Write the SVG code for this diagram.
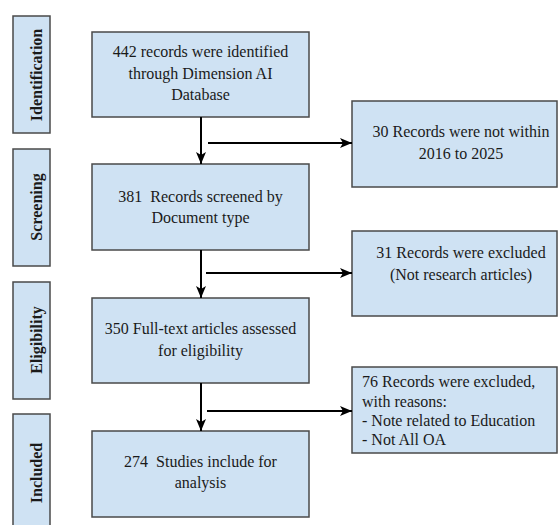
<svg xmlns="http://www.w3.org/2000/svg" width="558" height="525" viewBox="0 0 558 525">
<defs>
<style>
.box{fill:#cfe2f3;stroke:#4a4a4a;stroke-width:1.5}
text{font-family:'Liberation Serif','DejaVu Serif',Times,serif}
.t{font-size:16px;fill:#1a1a1a;white-space:pre}
.c{text-anchor:middle}
.lab{font-size:16px;font-weight:bold;fill:#1a1a1a;text-anchor:middle}
.ln{stroke:#000;stroke-width:2;fill:none}
</style>
<marker id="ah" markerUnits="userSpaceOnUse" viewBox="0 0 12 10" refX="12" refY="5" markerWidth="12" markerHeight="10" orient="auto">
<path d="M0,0 L12,5 L0,10 L3,5 z" fill="#000"/>
</marker>
</defs>
<rect width="558" height="525" fill="#fff"/>

<g id="stage-identification">
<rect class="box" x="13" y="16" width="37" height="117"/>
<text class="lab" transform="translate(42,75) rotate(-90)">Identification</text>
</g>
<g id="stage-screening">
<rect class="box" x="13" y="149" width="37" height="117"/>
<text class="lab" transform="translate(42,207) rotate(-90)">Screening</text>
</g>
<g id="stage-eligibility">
<rect class="box" x="13" y="282" width="37" height="117"/>
<text class="lab" transform="translate(42,340) rotate(-90)">Eligibility</text>
</g>
<g id="stage-included">
<rect class="box" x="13" y="414" width="37" height="118"/>
<text class="lab" transform="translate(42,473) rotate(-90)">Included</text>
</g>

<g id="identified">
<rect class="box" x="92" y="32" width="217" height="85"/>
<text class="t c" x="200.5" y="57">442 records were identified</text>
<text class="t c" x="200.5" y="79">through Dimension AI</text>
<text class="t c" x="200.5" y="100">Database</text>
</g>
<g id="screened">
<rect class="box" x="92" y="164" width="217" height="86"/>
<text class="t c" x="200.5" y="202">381  Records screened by</text>
<text class="t c" x="200.5" y="223">Document type</text>
</g>
<g id="assessed">
<rect class="box" x="92" y="298" width="217" height="85"/>
<text class="t c" x="200.5" y="334">350 Full-text articles assessed</text>
<text class="t c" x="200.5" y="356">for eligibility</text>
</g>
<g id="included">
<rect class="box" x="92" y="431" width="217" height="86"/>
<text class="t c" x="200.5" y="467">274  Studies include for</text>
<text class="t c" x="200.5" y="488">analysis</text>
</g>

<g id="excluded-date">
<rect class="box" x="352" y="101" width="205" height="86"/>
<text class="t c" x="461" y="137">30 Records were not within</text>
<text class="t c" x="461" y="159">2016 to 2025</text>
</g>
<g id="excluded-type">
<rect class="box" x="352" y="231" width="205" height="85"/>
<text class="t c" x="461" y="258">31 Records were excluded</text>
<text class="t c" x="461" y="280">(Not research articles)</text>
</g>
<g id="excluded-reasons">
<rect class="box" x="352" y="367" width="205" height="86"/>
<text class="t" x="362" y="387">76 Records were excluded,</text>
<text class="t" x="362" y="407">with reasons:</text>
<text class="t" x="362" y="426">- Note related to Education</text>
<text class="t" x="362" y="445">- Not All OA</text>
</g>

<g id="connectors">
<line class="ln" x1="201" y1="117" x2="201" y2="164" marker-end="url(#ah)"/>
<line class="ln" x1="201" y1="250" x2="201" y2="298" marker-end="url(#ah)"/>
<line class="ln" x1="201" y1="383" x2="201" y2="431" marker-end="url(#ah)"/>
<line class="ln" x1="208" y1="143" x2="352" y2="143" marker-end="url(#ah)"/>
<line class="ln" x1="206" y1="273" x2="352" y2="273" marker-end="url(#ah)"/>
<line class="ln" x1="207" y1="411" x2="352" y2="411" marker-end="url(#ah)"/>
</g>
</svg>
